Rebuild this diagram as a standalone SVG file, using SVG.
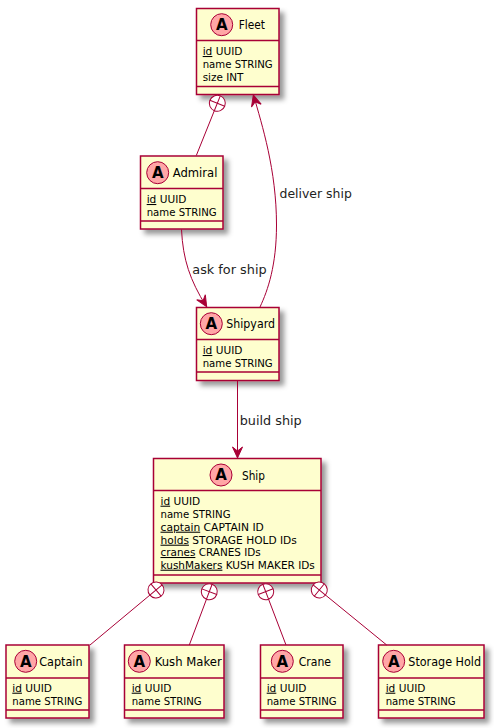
<svg xmlns="http://www.w3.org/2000/svg" xmlns:xlink="http://www.w3.org/1999/xlink" width="494" height="728" viewBox="0 0 494 728">
<style>
text{font-family:"DejaVu Sans","Liberation Sans",sans-serif;fill:#000}
.box{fill:#FEFECE;stroke:#A80036;stroke-width:1.5;filter:url(#sh)}
.sep{stroke:#A80036;stroke-width:1.5;fill:none}
.spot{fill:#FFA6A6;stroke:#A80036;stroke-width:1}
.a{font-size:15px;font-weight:bold;text-anchor:middle}
.t{font-size:11.5px}
.f{font-size:10.5px}
.u{text-decoration:underline}
.l{font-size:12.5px;fill:#222}
.c{stroke:#A80036;stroke-width:1;fill:none}
.h{fill:#A80036;stroke:#A80036;stroke-width:1}
.o{fill:#fff;stroke:#A80036;stroke-width:1}
</style>
<defs>
<filter id="sh" x="-10%" y="-10%" width="125%" height="125%"><feDropShadow dx="4.5" dy="4.5" stdDeviation="2.4" flood-color="#000" flood-opacity="0.4"/></filter>
<g id="x"><circle class="o" r="8"/><path class="c" d="M-8,0H8M0,-8V8"/></g>
<path id="ah" class="h" d="M0,0L-11,-5L-7,0L-11,5Z"/>
</defs>
<g id="fleet"><rect class="box" x="196.5" y="8.5" width="82.5" height="86"/><path class="sep" d="M196.5,40.5H279M196.5,86.5H279"/><circle class="spot" cx="221.7" cy="24.7" r="11"/><text class="a" x="221.7" y="30">A</text><text class="t" x="238.7" y="29" textLength="26.3" lengthAdjust="spacingAndGlyphs">Fleet</text><text class="f" x="202.7" y="55" textLength="39.7" lengthAdjust="spacingAndGlyphs"><tspan class="u">id</tspan> UUID</text><text class="f" x="202.7" y="68" textLength="70" lengthAdjust="spacingAndGlyphs">name STRING</text><text class="f" x="202.7" y="81" textLength="40.7" lengthAdjust="spacingAndGlyphs">size INT</text></g>
<g id="admiral"><rect class="box" x="140.5" y="156" width="82.5" height="73"/><path class="sep" d="M140.5,188.5H223M140.5,221H223"/><circle class="spot" cx="157.7" cy="172.7" r="11"/><text class="a" x="157.7" y="178">A</text><text class="t" x="172.7" y="177" textLength="44.7" lengthAdjust="spacingAndGlyphs">Admiral</text><text class="f" x="146.7" y="203" textLength="39.7" lengthAdjust="spacingAndGlyphs"><tspan class="u">id</tspan> UUID</text><text class="f" x="146.7" y="216" textLength="70" lengthAdjust="spacingAndGlyphs">name STRING</text></g>
<g id="shipyard"><rect class="box" x="196.5" y="307.5" width="82.5" height="73"/><path class="sep" d="M196.5,339.5H279M196.5,372H279"/><circle class="spot" cx="211.3" cy="323.7" r="11"/><text class="a" x="211.3" y="329">A</text><text class="t" x="226.3" y="328" textLength="48.7" lengthAdjust="spacingAndGlyphs">Shipyard</text><text class="f" x="202.7" y="354" textLength="39.7" lengthAdjust="spacingAndGlyphs"><tspan class="u">id</tspan> UUID</text><text class="f" x="202.7" y="367" textLength="70" lengthAdjust="spacingAndGlyphs">name STRING</text></g>
<g id="ship"><rect class="box" x="153.5" y="458.5" width="167.5" height="124.5"/><path class="sep" d="M153.5,490.5H321M153.5,575H321"/><circle class="spot" cx="221" cy="475" r="11"/><text class="a" x="221" y="480.3">A</text><text class="t" x="242" y="479.5" textLength="23" lengthAdjust="spacingAndGlyphs">Ship</text><text class="f" x="160.5" y="504.7" textLength="39.7" lengthAdjust="spacingAndGlyphs"><tspan class="u">id</tspan> UUID</text><text class="f" x="160.5" y="517.7" textLength="70" lengthAdjust="spacingAndGlyphs">name STRING</text><text class="f" x="160.5" y="530.7" textLength="103.3" lengthAdjust="spacingAndGlyphs"><tspan class="u">captain</tspan> CAPTAIN ID</text><text class="f" x="160.5" y="543.7" textLength="136.3" lengthAdjust="spacingAndGlyphs"><tspan class="u">holds</tspan> STORAGE HOLD IDs</text><text class="f" x="160.5" y="556" textLength="100.3" lengthAdjust="spacingAndGlyphs"><tspan class="u">cranes</tspan> CRANES IDs</text><text class="f" x="160.5" y="568.7" textLength="154.3" lengthAdjust="spacingAndGlyphs"><tspan class="u">kushMakers</tspan> KUSH MAKER IDs</text></g>
<g id="captain"><rect class="box" x="6" y="645" width="83" height="73"/><path class="sep" d="M6,678H89M6,710H89"/><circle class="spot" cx="25.7" cy="661.3" r="11"/><text class="a" x="25.7" y="666.6">A</text><text class="t" x="39.3" y="666" textLength="43.3" lengthAdjust="spacingAndGlyphs">Captain</text><text class="f" x="12.3" y="691.7" textLength="39.7" lengthAdjust="spacingAndGlyphs"><tspan class="u">id</tspan> UUID</text><text class="f" x="12.3" y="704.7" textLength="70" lengthAdjust="spacingAndGlyphs">name STRING</text></g>
<g id="kush-maker"><rect class="box" x="124.5" y="645" width="99.5" height="73"/><path class="sep" d="M124.5,678H224M124.5,710H224"/><circle class="spot" cx="139.3" cy="661.3" r="11"/><text class="a" x="139.3" y="666.6">A</text><text class="t" x="154.7" y="666" textLength="67" lengthAdjust="spacingAndGlyphs">Kush Maker</text><text class="f" x="131.7" y="691.7" textLength="39.7" lengthAdjust="spacingAndGlyphs"><tspan class="u">id</tspan> UUID</text><text class="f" x="131.7" y="704.7" textLength="70" lengthAdjust="spacingAndGlyphs">name STRING</text></g>
<g id="crane"><rect class="box" x="260.5" y="645" width="82.5" height="73"/><path class="sep" d="M260.5,678H343M260.5,710H343"/><circle class="spot" cx="282.3" cy="661.3" r="11"/><text class="a" x="282.3" y="666.6">A</text><text class="t" x="298.7" y="666" textLength="32.3" lengthAdjust="spacingAndGlyphs">Crane</text><text class="f" x="266.7" y="691.7" textLength="39.7" lengthAdjust="spacingAndGlyphs"><tspan class="u">id</tspan> UUID</text><text class="f" x="266.7" y="704.7" textLength="70" lengthAdjust="spacingAndGlyphs">name STRING</text></g>
<g id="storage-hold"><rect class="box" x="378.5" y="645" width="105.5" height="73"/><path class="sep" d="M378.5,678H484M378.5,710H484"/><circle class="spot" cx="393.7" cy="661.3" r="11"/><text class="a" x="393.7" y="666.6">A</text><text class="t" x="408.3" y="666" textLength="72.7" lengthAdjust="spacingAndGlyphs">Storage Hold</text><text class="f" x="385.7" y="691.7" textLength="39.7" lengthAdjust="spacingAndGlyphs"><tspan class="u">id</tspan> UUID</text><text class="f" x="385.7" y="704.7" textLength="70" lengthAdjust="spacingAndGlyphs">name STRING</text></g>
<g id="connectors">
<path class="c" d="M217.3,103.3L196.3,155.5"/><use xlink:href="#x" href="#x" transform="translate(217.3,103.3) rotate(112)"/>
<path class="c" d="M260,307C268,290 276.5,265 276.5,225C276.5,170 262,125 253.5,95"/><use xlink:href="#ah" href="#ah" transform="translate(253.3,95) rotate(-106)"/>
<path class="c" d="M181.5,229.5C183,260 190,280 206,306"/><use xlink:href="#ah" href="#ah" transform="translate(206.7,306.7) rotate(59)"/>
<path class="c" d="M237.5,380.5V457"/><use xlink:href="#ah" href="#ah" transform="translate(237.5,458) rotate(90)"/>
<path class="c" d="M156,590L90,645"/><use xlink:href="#x" href="#x" transform="translate(156,590) rotate(140)"/>
<path class="c" d="M209.3,591.7L189.3,645"/><use xlink:href="#x" href="#x" transform="translate(209.3,591.7) rotate(110.6)"/>
<path class="c" d="M265.7,591.7L286,645"/><use xlink:href="#x" href="#x" transform="translate(265.7,591.7) rotate(69)"/>
<path class="c" d="M319.3,590L386.7,645"/><use xlink:href="#x" href="#x" transform="translate(319.3,590) rotate(39)"/>
<text class="l" x="279.5" y="198" textLength="72.3" lengthAdjust="spacingAndGlyphs">deliver ship</text>
<text class="l" x="192.3" y="274" textLength="74.3" lengthAdjust="spacingAndGlyphs">ask for ship</text>
<text class="l" x="239.7" y="425" textLength="62" lengthAdjust="spacingAndGlyphs">build ship</text>
</g>
</svg>
